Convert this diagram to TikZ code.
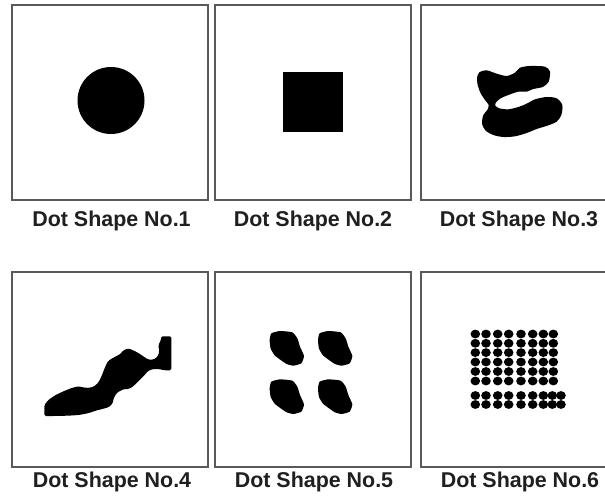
\documentclass[tikz,border=0pt]{standalone}
\usepackage{fontspec}
\setmainfont{Liberation Sans}
\begin{document}
\begin{tikzpicture}[x=1bp,y=-1bp,
  panel/.style={draw=black!65, line width=1.6bp, minimum width=196bp, minimum height=195bp, inner sep=0pt, outer sep=0pt},
  lbl/.style={font=\fontsize{21.5}{24}\selectfont\bfseries, text=black!88, anchor=base, inner sep=0pt},
  ink/.style={fill=black}]
\clip (0,0) rectangle (605,499);
\fill[white] (0,0) rectangle (605,499);
% panels
\node[panel] (p1) at (110,102.5) {};
\node[panel] (p2) at (313,102.5) {};
\node[panel] (p3) at (519,102.5) {};
\node[panel] (p4) at (110,369.5) {};
\node[panel] (p5) at (313,369.5) {};
\node[panel] (p6) at (519,369.5) {};
% labels
\node[lbl] (l1) at (111.5,226.5) {Dot Shape No.1};
\node[lbl] (l2) at (313,226.5) {Dot Shape No.2};
\node[lbl] (l3) at (519,226.5) {Dot Shape No.3};
\node[lbl] (l4) at (112,487) {Dot Shape No.4};
\node[lbl] (l5) at (314,487) {Dot Shape No.5};
\node[lbl] (l6) at (520,487) {Dot Shape No.6};
% shape 1
\fill[ink] (111,100.5) circle (33.5);
% shape 2
\fill[ink] (283,72) rectangle (343,132);
% shape 3
\begin{scope}[shift={(470,55)}, scale=1/3]
\fill[ink] plot[smooth cycle, tension=0.45] coordinates {
 (28,52) (50,46) (80,56) (110,63) (135,53) (150,38) (180,33) (225,35) (240,50)
 (236,80) (218,96) (190,102) (170,110) (145,110) (115,120) (92,130) (78,142)
 (76,152) (88,160) (115,163) (145,156) (170,146) (195,133) (230,126) (260,130)
 (277,150) (274,180) (260,200) (232,212) (200,222) (170,234) (135,244) (100,246)
 (70,240) (46,226) (36,205) (40,180) (52,165) (56,150) (45,135) (32,115) (23,90) (21,68)};
\end{scope}
% shape 4
\begin{scope}[shift={(35,325)}, scale=1/3]
\fill[ink, rounded corners=1.5] (28,273) -- (28,240) -- (40,225) -- (60,211) -- (85,199) -- (110,189)
 -- (130,184) -- (155,189) -- (175,186) -- (190,173) -- (200,153) -- (209,129) -- (219,108)
 -- (235,98) -- (255,88) -- (265,76) -- (280,70) -- (295,76) -- (310,84) -- (325,94)
 -- (340,104) -- (355,104) -- (368,95) -- (373,80) -- (370,60) -- (378,45) -- (378,34)
 -- (409,34) -- (409,136) -- (390,136) -- (370,132) -- (355,132) -- (340,137) -- (327,152)
 -- (312,167) -- (297,182) -- (282,192) -- (267,192) -- (247,202) -- (237,217) -- (232,237)
 -- (220,247) -- (202,252) -- (182,257) -- (162,264) -- (132,270) -- (100,272) -- (60,273) -- cycle;
\end{scope}
% shape 5
\foreach \dx/\dy in {0/0,145/0,0/145,145/145}{
\begin{scope}[shift={(260,320)}, scale=1/3, shift={(\dx,\dy)}]
\fill[ink] plot[smooth cycle, tension=0.3] coordinates {
 (34,40) (60,33) (97,37) (112,55) (120,80) (132,108) (124,130) (100,137)
 (80,132) (62,120) (44,106) (32,86) (29,60)};
\end{scope}}
% shape 6
\foreach \y in {334,343.3,352.6,362,371.5,381}{
  \foreach \x in {475.3,486,497.7,508.7,521,532.7,543.3,553.3}{
    \fill[ink] (\x,\y) ellipse (4.8 and 4.4);
  }}
\foreach \y in {395.5,404.5}{
  \foreach \x in {475.3,486,497.7,508.7,521,532.7,543.3,552.3,561}{
    \fill[ink] (\x,\y) ellipse (4.8 and 4.4);
  }}
\end{tikzpicture}
\end{document}
